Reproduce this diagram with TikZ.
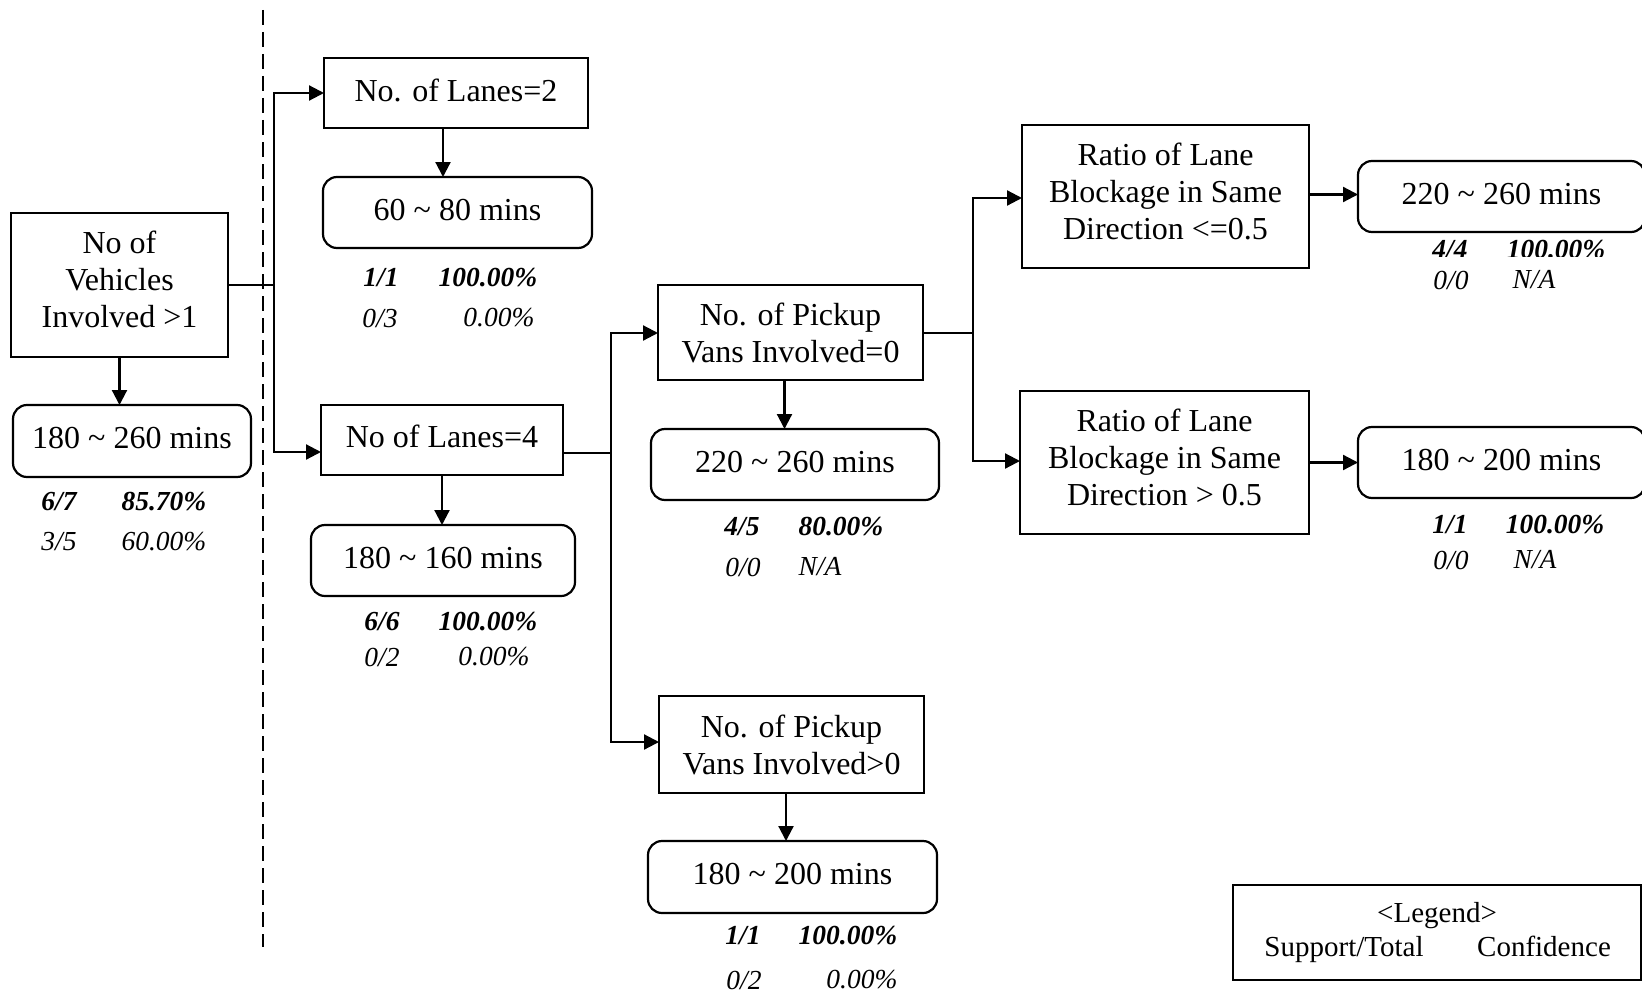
\documentclass[tikz,border=0pt]{standalone}
\usepackage{fontspec}
\setmainfont{Liberation Serif}
\usetikzlibrary{arrows.meta}
% invisible strut that adds depth below the last line of a box text
\newcommand\lowstrut[1]{\rule[-#1]{0pt}{#1}}
\begin{document}
\begin{tikzpicture}[x=0.5pt,y=-0.5pt,
  every node/.style={inner sep=0pt, outer sep=0pt},
  cond/.style={draw, line width=1.1pt, align=center, font=\fontsize{16}{18.5}\selectfont},
  res/.style={draw, line width=1.1pt, rounded corners=7pt, align=center, font=\fontsize{16}{18.5}\selectfont},
  sup/.style={font=\fontsize{13.75}{16}\selectfont\bfseries\itshape},
  oth/.style={font=\fontsize{13.75}{16}\selectfont\itshape},
  leg/.style={anchor=base, font=\fontsize{14.5}{17}\selectfont},
  link/.style={line width=1.1pt},
  arr/.style={line width=1.1pt, -{Triangle[length=7.5pt,width=7.5pt]}},
  sepline/.style={line width=1.1pt, dash pattern=on 7.5pt off 3.5pt},
]
\clip (0,0) rectangle (1642,995);

% separator between root and first split
\draw[sepline] (263,10) -- (263,947);

% root condition and its outcome
\node[cond, minimum width=108.5pt, minimum height=72pt] (A) at (119.5,285) {No of\\Vehicles\\Involved >1\lowstrut{5.8pt}};
\node[res, minimum width=119pt, minimum height=36pt] (Ar) at (132,441) {180 \textasciitilde{} 260 mins\lowstrut{3pt}};
\node[sup] (As) at (59,502) {6/7};
\node[sup] (Ac) at (164,502) {85.70\%};
\node[oth] (At) at (59,542) {3/5};
\node[oth] (Ao) at (164,542) {60.00\%};

% number of lanes
\node[cond, minimum width=132pt, minimum height=35pt] (L2) at (456,93) {No. of Lanes=2\lowstrut{3pt}};
\node[res, minimum width=134.5pt, minimum height=35.5pt] (L2r) at (457.5,212.5) {60 \textasciitilde{} 80 mins\lowstrut{3pt}};
\node[sup] (L2s) at (381,278) {1/1};
\node[sup] (L2c) at (488,278) {100.00\%};
\node[oth] (L2t) at (380,318) {0/3};
\node[oth] (L2o) at (499,318) {0.00\%};

\node[cond, minimum width=121pt, minimum height=35pt] (L4) at (442,440) {No of Lanes=4\lowstrut{4pt}};
\node[res, minimum width=132pt, minimum height=35.5pt] (L4r) at (443,560.5) {180 \textasciitilde{} 160 mins\lowstrut{3pt}};
\node[sup] (L4s) at (382,622) {6/6};
\node[sup] (L4c) at (488,622) {100.00\%};
\node[oth] (L4t) at (382,657) {0/2};
\node[oth] (L4o) at (494,657) {0.00\%};

% pickup vans
\node[cond, minimum width=132.5pt, minimum height=47.5pt] (P0) at (790.5,332.5) {No. of Pickup\\Vans Involved=0};
\node[res, minimum width=144pt, minimum height=35.5pt] (P0r) at (795,464.5) {220 \textasciitilde{} 260 mins\lowstrut{3pt}};
\node[sup] (P0s) at (742,527) {4/5};
\node[sup] (P0c) at (841,527) {80.00\%};
\node[oth] (P0t) at (743,567) {0/0};
\node[oth] (P0o) at (820,567) {N/A};

\node[cond, minimum width=132.5pt, minimum height=48.5pt] (P1) at (791.5,744.5) {No. of Pickup\\Vans Involved>0};
\node[res, minimum width=144.5pt, minimum height=36pt] (P1r) at (792.5,877) {180 \textasciitilde{} 200 mins\lowstrut{3pt}};
\node[sup] (P1s) at (743,936) {1/1};
\node[sup] (P1c) at (848,936) {100.00\%};
\node[oth] (P1t) at (744,980) {0/2};
\node[oth] (P1o) at (862,980) {0.00\%};

% lane blockage ratio
\node[cond, minimum width=143.5pt, minimum height=71.5pt] (B1) at (1165.5,196.5) {Ratio of Lane\\Blockage in Same\\Direction <=0.5\lowstrut{5.5pt}};
\node[res, minimum width=143.5pt, minimum height=35.5pt] (B1r) at (1501.5,196.5) {220 \textasciitilde{} 260 mins\lowstrut{3pt}};
\begin{scope}
  \clip (1400,230) rectangle (1642,256);
  \node[sup] (B1s) at (1450,250) {4/4};
  \node[sup] (B1c) at (1556,250) {100.00\%};
\end{scope}
\node[oth] (B1t) at (1451,280) {0/0};
\node[oth] (B1o) at (1534,280) {N/A};

\node[cond, minimum width=144.5pt, minimum height=71.5pt] (B2) at (1164.5,462.5) {Ratio of Lane\\Blockage in Same\\Direction > 0.5\lowstrut{5.5pt}};
\node[res, minimum width=143.5pt, minimum height=35.5pt] (B2r) at (1501.5,462.5) {180 \textasciitilde{} 200 mins\lowstrut{3pt}};
\node[sup] (B2s) at (1450,525) {1/1};
\node[sup] (B2c) at (1555,525) {100.00\%};
\node[oth] (B2t) at (1451,560) {0/0};
\node[oth] (B2o) at (1535,560) {N/A};

% legend
\node[draw, line width=1.1pt, minimum width=204pt, minimum height=47.5pt] (Lg) at (1437,932.5) {};
\node[leg] (Lg1) at (1437,922) {<Legend>};
\node[leg] (Lg2) at (1344,956.5) {Support/Total};
\node[leg] (Lg3) at (1544,956.5) {Confidence};

% branch points
\coordinate (j1) at (274,285);
\coordinate (j1t) at (274,93);
\coordinate (j1b) at (274,452);
\coordinate (j2) at (611,453);
\coordinate (j2t) at (611,333);
\coordinate (j2b) at (611,742);
\coordinate (j3) at (973,333);
\coordinate (j3t) at (973,198);
\coordinate (j3b) at (973,461);

% connectors
\draw[arr] (A.south) -- (A.south |- Ar.north);
\draw[link] (A.east) -- (j1);
\draw[arr] (j1) -- (j1t) -- (L2.west |- j1t);
\draw[arr] (j1) -- (j1b) -- (L4.west |- j1b);

\draw[arr] ([xshift=-6.5pt]L2.south) -- ([xshift=-6.5pt]L2.south |- L2r.north);
\draw[arr] (L4.south) -- (L4.south |- L4r.north);

\draw[link] (L4.east |- j2) -- (j2);
\draw[arr] (j2) -- (j2t) -- (P0.west |- j2t);
\draw[arr] (j2) -- (j2b) -- (P1.west |- j2b);

\draw[arr] ([xshift=-3pt]P0.south) -- ([xshift=-3pt]P0.south |- P0r.north);
\draw[arr] ([xshift=-2.75pt]P1.south) -- ([xshift=-2.75pt]P1.south |- P1r.north);

\draw[link] (P0.east |- j3) -- (j3);
\draw[arr] (j3) -- (j3t) -- (B1.west |- j3t);
\draw[arr] (j3) -- (j3b) -- (B2.west |- j3b);

\draw[arr] ([yshift=1pt]B1.east) -- ([yshift=1pt]B1r.west);
\draw[arr] (B2.east) -- (B2r.west);
\end{tikzpicture}
\end{document}
